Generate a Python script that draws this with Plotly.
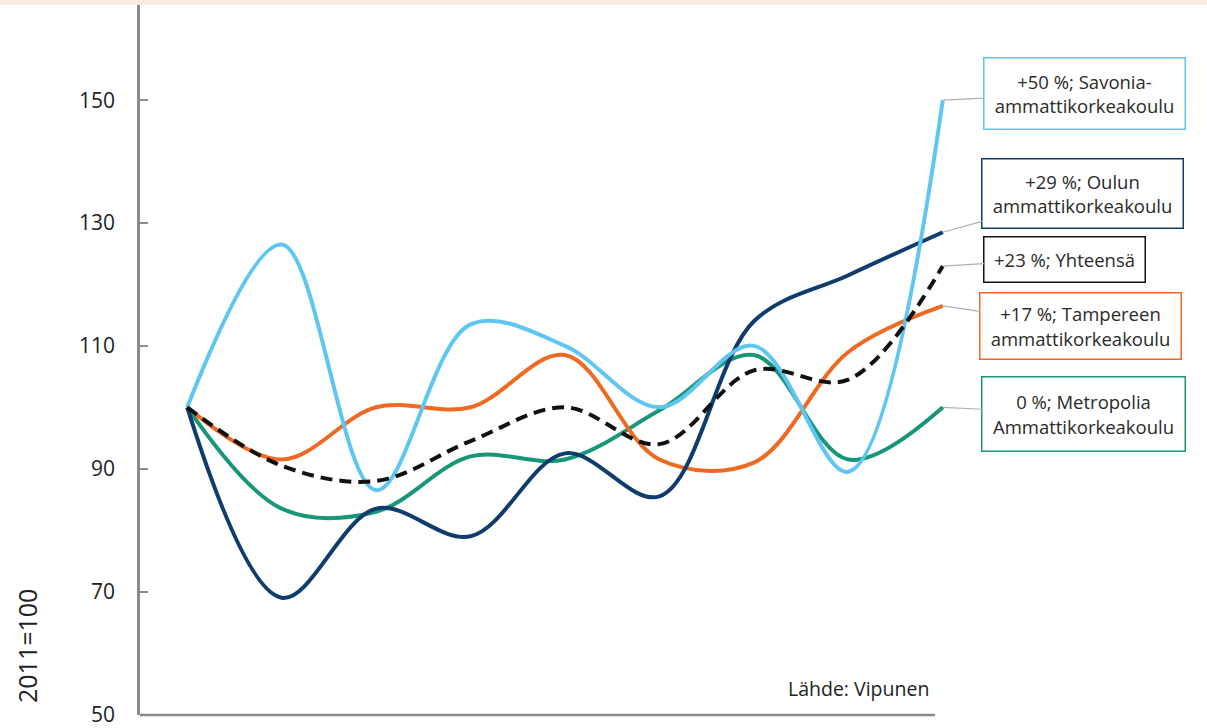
import plotly.graph_objects as go

years = [2011, 2012, 2013, 2014, 2015, 2016, 2017, 2018, 2019]

savonia = [100, 126.5, 86.5, 113.5, 110, 100, 110, 89.5, 150]
oulu = [100, 69, 83.5, 79, 92.5, 85.5, 114, 121.5, 128.5]
tampere = [100, 91.5, 100, 100, 108.5, 91.5, 91, 109, 116.5]
metropolia = [100, 83.5, 83, 92, 91.5, 99.5, 108.5, 91.5, 100]
yhteensa = [100, 90.5, 88, 94.5, 100, 94, 106, 104.5, 123]

series_names = ["Savonia-ammattikorkeakoulu", "Oulun ammattikorkeakoulu",
                "Tampereen ammattikorkeakoulu", "Metropolia Ammattikorkeakoulu", "Yhteensä"]
label_texts = ["+50 %; Savonia-<br>ammattikorkeakoulu",
               "+29 %; Oulun<br>ammattikorkeakoulu",
               "+17 %; Tampereen<br>ammattikorkeakoulu",
               "0 %; Metropolia<br>Ammattikorkeakoulu",
               "+23 %; Yhteensä"]
colors = ["#5ec6f1", "#0e3c6c", "#ee6a22", "#17967a", "#111111"]
values = [savonia, oulu, tampere, metropolia, yhteensa]
dashes = ["solid", "solid", "solid", "solid", "12px,7px"]

y_ticks = [50, 70, 90, 110, 130, 150]

W, H = 1207, 728
L, R, T, B = 140, 217, 5, 13
PW, PH = W - L - R, H - T - B

fig = go.Figure()
order = [3, 2, 1, 0, 4]
for i in order:
    fig.add_trace(go.Scatter(
        x=years, y=values[i], mode="lines", name=series_names[i],
        line=dict(color=colors[i], width=4, shape="spline", smoothing=1, dash=dashes[i]),
        showlegend=False, hoverinfo="skip"))

# label boxes: (ax, ay, width, height)
box_geo = [(142, -7, 190, 60), (140, -39, 190, 58), (138, 20, 190, 55), (141, 7, 192, 63), (122, -7, 150, 34)]
for i, (ax, ay, w, h) in enumerate(box_geo):
    fig.add_annotation(
        x=years[-1], y=values[i][-1], ax=ax, ay=ay,
        text=label_texts[i], showarrow=True, arrowhead=0, arrowwidth=1.2,
        arrowcolor="#b0b0b0", standoff=0,
        font=dict(family="Open Sans", size=18.5, color="#2a2a2a"),
        bordercolor=colors[i], borderwidth=1.5, borderpad=5, bgcolor="white",
        width=w, height=h, align="center", valign="middle")

fig.add_annotation(x=(27 - L) / PW, y=(H - B - 646) / PH, xref="paper", yref="paper",
                   text="2011=100", textangle=-90, showarrow=False,
                   font=dict(family="Open Sans", size=25, color="#222222"),
                   xanchor="center", yanchor="middle")
fig.add_annotation(x=(858 - L) / PW, y=(H - B - 688) / PH, xref="paper", yref="paper",
                   text="Lähde: Vipunen", showarrow=False, xanchor="center", yanchor="middle",
                   font=dict(family="Open Sans", size=19.5, color="#222222"))

# x-axis line (ends before plot right edge) and top strip
fig.add_shape(type="line", xref="paper", yref="paper", x0=0, x1=(935 - L) / PW, y0=0, y1=0,
              line=dict(color="#8c8c8c", width=2.5))
fig.add_shape(type="rect", xref="paper", yref="paper", x0=-L / PW, x1=(W - L) / PW,
              y0=1, y1=1 + T / PH, fillcolor="#f9e9e2", line=dict(width=0), layer="below")

fig.update_layout(
    width=W, height=H,
    margin=dict(l=L, r=R, t=T, b=B, autoexpand=False),
    paper_bgcolor="white", plot_bgcolor="white",
    font=dict(family="Open Sans"),
)
fig.update_xaxes(range=[2010.5, 2019.5], showgrid=False, zeroline=False, showticklabels=False,
                 showline=False, ticks="", automargin=False)
fig.update_yaxes(range=[49.9, 165.5], tickvals=y_ticks, showgrid=False, zeroline=False,
                 showline=True, linecolor="#8c8c8c", linewidth=2.5,
                 ticks="inside", ticklen=8, tickcolor="#8c8c8c", tickwidth=2,
                 tickfont=dict(family="Open Sans", size=21, color="#222222"),
                 ticklabelstandoff=18, ticklabeloverflow="allow", automargin=False)

fig.write_html("out.html", config={"displayModeBar": False},
               post_script="document.body.style.margin='0px';")
